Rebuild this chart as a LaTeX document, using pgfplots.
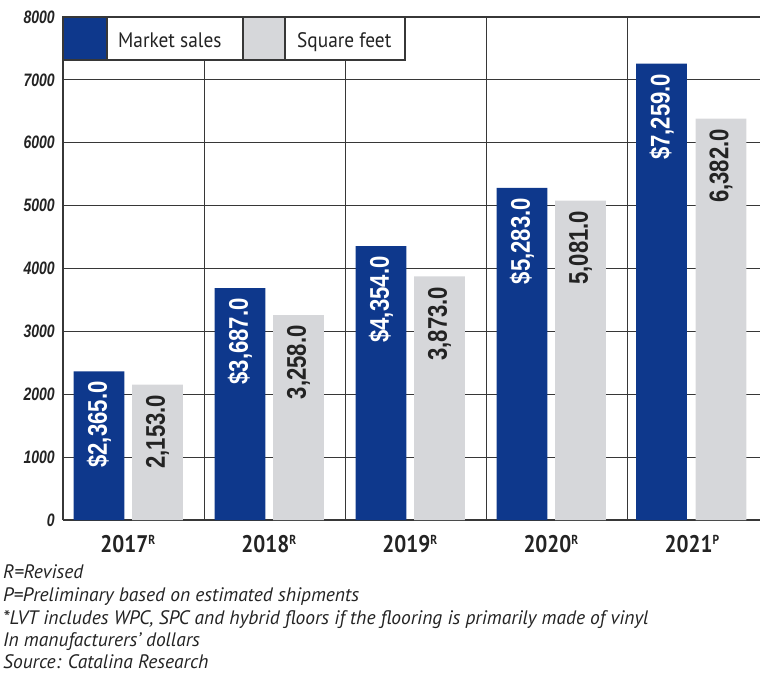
\documentclass[border=0pt]{standalone}
\usepackage{pgfplots}
\pgfplotsset{compat=1.18}
\usepackage{pgfplotstable}
\usepackage{fontspec}
\setmainfont{PT Sans}
\newfontfamily\narrow[FakeStretch=0.82]{Liberation Sans}
\newfontfamily\ticknarrow[FakeStretch=0.78]{Liberation Sans}
\newfontfamily\yearfont[FakeStretch=0.88]{PT Sans}
\newfontfamily\legendfont[FakeStretch=0.92]{PT Sans}
\newfontfamily\notefont{PT Sans}
\definecolor{barblue}{RGB}{14,56,140}
\definecolor{bargray}{RGB}{214,215,218}
\definecolor{linec}{RGB}{55,55,55}
\definecolor{textc}{RGB}{35,35,35}
\newcommand{\yr}[2]{#1\raisebox{8pt}{\fontsize{13}{13}\selectfont #2}}

\pgfplotstableread{
x y lab
0.255 2365 {\$2,365.0}
1.255 3687 {\$3,687.0}
2.255 4354 {\$4,354.0}
3.255 5283 {\$5,283.0}
4.245 7259 {\$7,259.0}
}\sales
\pgfplotstableread{
x y lab
0.67 2153 {2,153.0}
1.67 3258 {3,258.0}
2.67 3873 {3,873.0}
3.67 5081 {5,081.0}
4.667 6382 {6,382.0}
}\sqft

\begin{document}
\begin{tikzpicture}[x=1pt,y=1pt]
\begin{axis}[
  at={(63pt,155pt)}, anchor=south west, scale only axis,
  width=697pt, height=503pt,
  xmin=0, xmax=4.943, ymin=0, ymax=8000,
  axis line style={draw=none},
  major tick length=0pt,
  ytick={0,1000,...,8000},
  ymajorgrids, grid style={linec, line width=1pt},
  /pgf/number format/assume math mode=true,
  /pgf/number format/set thousands separator={},
  yticklabel style={font=\ticknarrow\bfseries\itshape\fontsize{18}{18}\selectfont, text=textc, inner sep=0pt, xshift=-8pt},
  xtick={0.46,1.46,2.46,3.46,4.46},
  xticklabels={\yr{2017}{R},\yr{2018}{R},\yr{2019}{R},\yr{2020}{R},\yr{2021}{P}},
  xticklabel style={font=\yearfont\bfseries\fontsize{24}{24}\selectfont, text=textc, anchor=base, inner sep=0pt, yshift=-32pt},
  ybar, bar width=0.36,
  nodes near coords,
  point meta=explicit symbolic,
  clip=false,
]
\draw[linec, line width=1pt] (axis cs:1,0) -- (axis cs:1,8000);
\draw[linec, line width=1pt] (axis cs:2,0) -- (axis cs:2,8000);
\draw[linec, line width=1pt] (axis cs:3,0) -- (axis cs:3,8000);
\draw[linec, line width=1pt] (axis cs:4,0) -- (axis cs:4,8000);
\draw[linec, line width=1.6pt] (axis cs:0,0) -- (axis cs:4.943,0);
\draw[linec, line width=1.6pt] (axis cs:0,0) -- (axis cs:0,8000) -- (axis cs:4.943,8000);
\addplot[fill=barblue, draw=none, bar shift=0pt,
  every node near coord/.append style={rotate=90, anchor=east, inner xsep=10pt, inner ysep=0pt,
  font=\narrow\bfseries\fontsize{27}{27}\selectfont, text=white}]
  table[x=x,y=y,meta=lab]{\sales};
\addplot[fill=bargray, draw=none, bar shift=0pt,
  every node near coord/.append style={rotate=90, anchor=east, inner xsep=10pt, inner ysep=0pt,
  font=\narrow\bfseries\fontsize{27}{27}\selectfont, text=textc}]
  table[x=x,y=y,meta=lab]{\sqft};
\end{axis}
% legend
\fill[barblue] (63,615) rectangle (107,658);
\fill[white] (107,615) rectangle (243,658);
\fill[bargray] (243,615) rectangle (285,658);
\fill[white] (285,615) rectangle (405,658);
\draw[linec, line width=1.3pt] (63,615) rectangle (405,658);
\draw[linec, line width=1.3pt] (107,615) -- (107,658);
\draw[linec, line width=1.3pt] (243,615) -- (243,658);
\draw[linec, line width=1.3pt] (285,615) -- (285,658);
\node[anchor=base west, inner sep=0pt, font=\legendfont\fontsize{21}{21}\selectfont, text=textc] at (118,627) {Market sales};
\node[anchor=base west, inner sep=0pt, font=\legendfont\fontsize{21}{21}\selectfont, text=textc] at (297,627) {Square feet};
% notes
\begin{scope}[every node/.style={anchor=base west, inner sep=0pt, font=\notefont\itshape\fontsize{19.5}{19.5}\selectfont, text=textc}]
\node at (3,97) {R=Revised};
\node at (3,74) {P=Preliminary based on estimated shipments};
\node at (3,51) {*LVT includes WPC, SPC and hybrid floors if the flooring is primarily made of vinyl};
\node at (3,28.5) {In manufacturers’ dollars};
\node at (3,7) {Source: Catalina Research};
\end{scope}
\pgfresetboundingbox
\path[use as bounding box] (0,0) rectangle (760,675);
\end{tikzpicture}
\end{document}
